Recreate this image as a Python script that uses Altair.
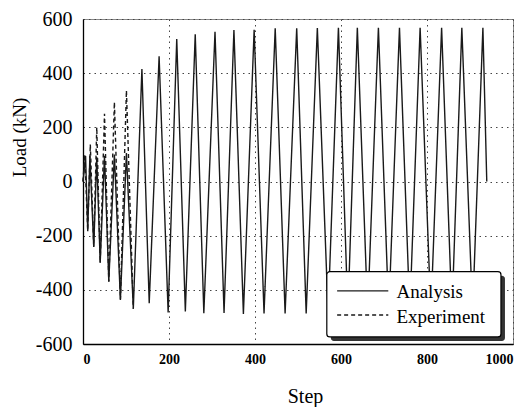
import altair as alt
import pandas as pd

# ---- data ----
analysis_step = [0, 6, 11, 16, 25, 32, 40, 50, 60, 73, 87, 101, 117, 137, 154, 177, 198,
                 218, 238, 261, 281, 307, 328, 351, 373, 398, 421, 447, 470, 497, 519,
                 545, 570, 594, 616, 638, 662, 687, 711, 736, 760, 784, 809, 834, 858,
                 881, 906, 930, 939]
analysis_load = [0, 94, -184, 94, -242, 90, -300, 95, -369, 100, -437, 105, -470, 415, -449,
                 462, -484, 526, -480, 544, -486, 553, -485, 559, -489, 560, -487, 566,
                 -487, 566, -487, 567, -487, 568, -487, 568, -487, 568, -487, 568, -487,
                 568, -487, 568, -487, 568, -487, 568, 0]

experiment_step = [0, 4, 11, 17, 25, 32, 40, 50, 60, 73, 87, 101, 117]
experiment_load = [0, 100, -180, 137, -240, 200, -300, 250, -370, 293, -435, 336, -470]

series_names = ["Analysis", "Experiment"]
x_ticks = [0, 200, 400, 600, 800, 1000]
y_ticks = [-600, -400, -200, 0, 200, 400, 600]

rows = []
for i, (s, v) in enumerate(zip(analysis_step, analysis_load)):
    rows.append({"series": series_names[0], "step": s, "load": v, "order": i})
for i, (s, v) in enumerate(zip(experiment_step, experiment_load)):
    rows.append({"series": series_names[1], "step": s, "load": v, "order": i})
df = pd.DataFrame(rows)

FONT = "Liberation Serif"
INK = "#1a1a1a"

xscale = alt.Scale(domain=[0, 1000], nice=False, zero=False)
yscale = alt.Scale(domain=[-600, 600], nice=False, zero=False)

x_axis = alt.Axis(values=x_ticks, title="Step", ticks=False,
                  labelExpr="'' + datum.value",
                  labelFont=FONT, labelFontSize=14, labelFontWeight="bold",
                  labelPadding=8, labelColor="black",
                  titleFont=FONT, titleFontSize=20, titleFontWeight="normal",
                  titleColor="black", titleX=222, titleY=58,
                  titleBaseline="alphabetic",
                  grid=True, gridDash=[1.5, 4], gridColor="#444", gridWidth=1,
                  domainColor="black", domainWidth=1.3)
y_axis = alt.Axis(values=y_ticks, title="Load (kN)", ticks=False,
                  labelExpr="'' + datum.value",
                  labelFont=FONT, labelFontSize=20, labelPadding=11,
                  labelColor="black",
                  titleFont=FONT, titleFontSize=19, titleFontWeight="normal",
                  titleColor="black", titleX=-58, titleY=118,
                  titleBaseline="alphabetic", titleAlign="center",
                  grid=True, gridDash=[1.5, 4], gridColor="#444", gridWidth=1,
                  domainColor="black", domainWidth=1.3)

dash_scale = alt.Scale(domain=series_names, range=[[1, 0], [4, 3]])

lines = alt.Chart(df).mark_line(strokeWidth=1.4, color=INK).encode(
    x=alt.X("step:Q", scale=xscale, axis=x_axis),
    y=alt.Y("load:Q", scale=yscale, axis=y_axis),
    strokeDash=alt.StrokeDash("series:N", scale=dash_scale, legend=None),
    detail="series:N",
    order="order:Q",
)

# ---- hand-drawn legend box (in data units) ----
box = pd.DataFrame([{"x0": 567, "x1": 972, "y0": -333, "y1": -574}])
shadow = alt.Chart(box).mark_rect(fill="#333", xOffset=4, x2Offset=4, yOffset=4,
                                  y2Offset=4, cornerRadius=3).encode(
    x=alt.X("x0:Q", scale=xscale, axis=x_axis), x2="x1:Q",
    y=alt.Y("y0:Q", scale=yscale, axis=y_axis), y2="y1:Q")
frame = alt.Chart(box).mark_rect(fill="white", stroke="black", strokeWidth=1.2,
                                 cornerRadius=3).encode(
    x=alt.X("x0:Q", scale=xscale, axis=x_axis), x2="x1:Q",
    y=alt.Y("y0:Q", scale=yscale, axis=y_axis), y2="y1:Q")

leg = pd.DataFrame({
    "series": series_names,
    "lx0": [591, 591],
    "lx1": [710, 710],
    "ly": [-404, -493],
    "tx": [729, 729],
    "ty": [-430, -521],
})
leg_lines = alt.Chart(leg).mark_rule(strokeWidth=1.3, color=INK).encode(
    x=alt.X("lx0:Q", scale=xscale, axis=x_axis), x2="lx1:Q",
    y=alt.Y("ly:Q", scale=yscale, axis=y_axis),
    strokeDash=alt.StrokeDash("series:N", scale=dash_scale, legend=None),
)
leg_text = alt.Chart(leg).mark_text(align="left", baseline="alphabetic", font=FONT,
                                    fontSize=19, color="black").encode(
    x=alt.X("tx:Q", scale=xscale, axis=x_axis),
    y=alt.Y("ty:Q", scale=yscale, axis=y_axis),
    text="series:N",
)

chart = alt.layer(lines, shadow, frame, leg_lines, leg_text).properties(
    width=430, height=325,
    autosize=alt.AutoSizeParams(type="none"),
    padding={"left": 83, "top": 19, "right": 19, "bottom": 63},
    background="white",
).configure_view(stroke="#888", strokeWidth=1
).configure_axis(labelFont=FONT, titleFont=FONT)

chart.save("out.html", embed_options={"renderer": "svg", "actions": False})
